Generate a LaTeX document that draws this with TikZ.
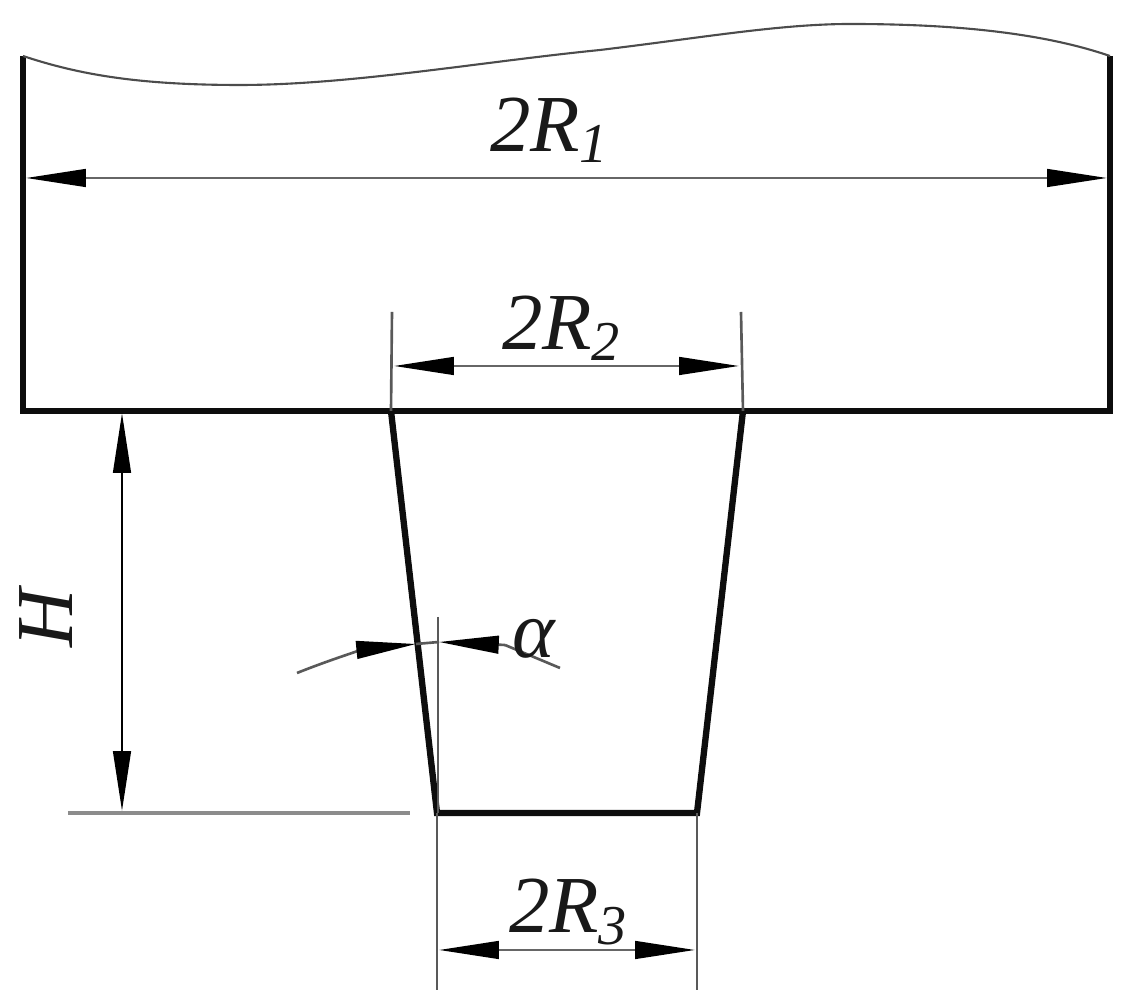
\documentclass[tikz,border=0pt]{standalone}
\usepackage{fontspec}
\setmainfont{Liberation Serif}
\usepackage{tikz}
\usetikzlibrary{arrows.meta}
\tikzset{
	wall/.style={line width=1.8pt, black!95},
	thin line/.style={line width=.75pt, black!65},
	tip/.tip={Triangle[length=17pt,width=5pt,black]},
	dim/.style={line width=.75pt, black!60, tip-tip},
	dimtext/.style={inner sep=0pt, font=\fontsize{23}{23}\selectfont\itshape, black!90},
}
\newcommand{\subnum}[1]{\raisebox{-.3ex}{\fontsize{16}{16}\selectfont #1}}
\begin{document}
\begin{tikzpicture}[x=.01cm,y=-.01cm]
	\useasboundingbox (0,0) rectangle (1135,1007);
	
	\coordinate (tl) at (23,56);
	\coordinate (bl) at (23,411);
	\coordinate (tr) at (1110,56);
	\coordinate (br) at (1110,411);
	\coordinate (nl) at (391,411);
	\coordinate (nr) at (743,411);
	\coordinate (fl) at (437,813);
	\coordinate (fr) at (697,813);
	
	\draw[wall] (tl)--(bl)--(br)--(tr);
	\draw[wall] (nl)--(fl)--(fr)--(nr);
	\draw[line width=.6pt, black!70] (tl) .. controls (80,75) and (140,85) .. (240,85) .. controls (350,85) and (480,62) .. (600,50) .. controls (700,38) and (780,24) .. (850,24) .. controls (950,24) and (1040,32) .. (tr);
	
	% radius marks
	\coordinate (a1) at (26,178);
	\coordinate (a2) at (1107,178);
	\draw[dim] (a1)--(a2);
	\node[dimtext] (r1) at (549,130) {2R\subnum{1}};
	
	\coordinate (e1) at (392,312);
	\coordinate (e2) at (741,312);
	\coordinate (e3) at (394,366);
	\coordinate (e4) at (739,366);
	\draw[thin line] (e1)--(nl) (e2)--(nr);
	\draw[dim] (e3)--(e4);
	\node[dimtext] (r2) at (561,328) {2R\subnum{2}};
	
	\coordinate (g1) at (437,990);
	\coordinate (g2) at (697,990);
	\coordinate (g3) at (439,950);
	\coordinate (g4) at (695,950);
	\draw[thin line] (fl)--(g1) (fr)--(g2);
	\draw[dim] (g3)--(g4);
	\node[dimtext] (r3) at (568,912) {2R\subnum{3}};
	
	% height
	\coordinate (h1) at (122,413);
	\coordinate (h2) at (122,811);
	\coordinate (h3) at (68,813);
	\coordinate (h4) at (410,813);
	\draw[line width=.9pt, black!45] (h3)--(h4);
	\draw[dim, black] (h1)--(h2);
	\node[dimtext, rotate=90] (hh) at (46,618) {H};
	
	% angle
	\coordinate (c1) at (438,617);
	\coordinate (c2) at (438,813);
	\coordinate (d1) at (297,673);
	\coordinate (d2) at (416,644);
	\coordinate (d3) at (439,642);
	\coordinate (d4) at (560,668);
	\coordinate (d5) at (505,645);
	\draw[thin line] (c1)--(c2);
	\draw[thin line] (d2)--(d3);
	\draw[thin line, -tip] (d1) to[bend left=8] (d2);
	\draw[thin line, tip-] (d3)--(d5);
	\draw[thin line] (d5)--(d4);
	\node[dimtext] (aa) at (534,639) {α};
\end{tikzpicture}
\end{document}
